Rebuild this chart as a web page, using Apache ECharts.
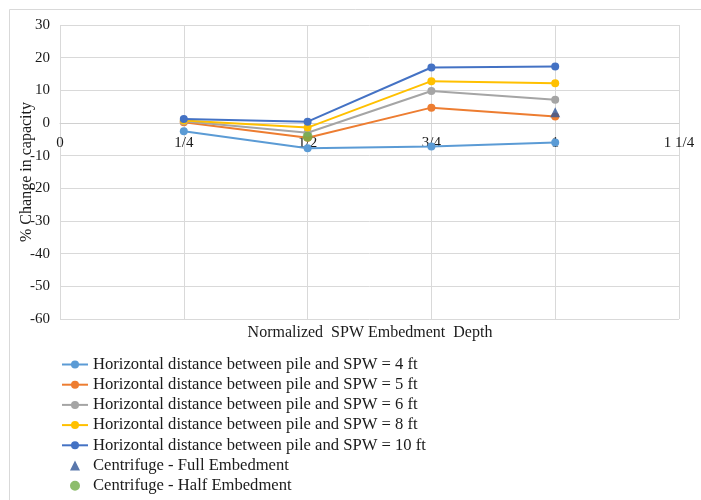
<!DOCTYPE html>
<html>
<head>
<meta charset="utf-8">
<script src="https://cdn.jsdelivr.net/npm/echarts@6/dist/echarts.min.js"></script>
<style>
html,body{margin:0;padding:0;background:#fff;}
#c{width:701px;height:500px;}
</style>
</head>
<body>
<div id="c"></div>
<script>
// ---- data ----
var depths = [0.25, 0.5, 0.75, 1];
var tickLabels = ['0', '1/4', '1/2', '3/4', '1', '1 1/4'];
var names = [
  'Horizontal distance between pile and SPW = 4 ft',
  'Horizontal distance between pile and SPW = 5 ft',
  'Horizontal distance between pile and SPW = 6 ft',
  'Horizontal distance between pile and SPW = 8 ft',
  'Horizontal distance between pile and SPW = 10 ft'
];
var d4ft  = [-2.5, -7.7, -7.2, -6.0];
var d5ft  = [0.2, -4.5, 4.7, 2.0];
var d6ft  = [0.5, -3.0, 9.8, 7.1];
var d8ft  = [0.8, -1.4, 12.8, 12.2];
var d10ft = [1.2, 0.4, 17.0, 17.3];
var fullName = 'Centrifuge - Full Embedment';
var fullX = [1];
var fullY = [3.3];
var halfName = 'Centrifuge - Half Embedment';
var halfX = [0.5];
var halfY = [-4.2];

var colors = ['#5B9BD5', '#ED7D31', '#A5A5A5', '#FFC000', '#4472C4'];
var FONT = 'Liberation Serif';
var TXT = '#1a1a1a';

function pairs(xs, ys) { return xs.map(function (x, i) { return [x, ys[i]]; }); }

var lineData = [d4ft, d5ft, d6ft, d8ft, d10ft];
var series = lineData.map(function (vals, i) {
  return {
    name: names[i],
    type: 'line',
    data: pairs(depths, vals),
    symbol: 'circle',
    symbolSize: 8,
    color: colors[i],
    lineStyle: { width: 2, color: colors[i] },
    itemStyle: { color: colors[i] },
    z: 2 + i
  };
});
series.push({
  name: fullName, type: 'scatter', data: pairs(fullX, fullY),
  symbol: 'triangle', symbolSize: 10,
  color: '#2F5597', itemStyle: { color: '#2F5597' }, z: 10
});
series.push({
  name: halfName, type: 'scatter', data: pairs(halfX, halfY),
  symbol: 'circle', symbolSize: 10,
  color: '#70AD47', itemStyle: { color: '#70AD47' }, z: 10
});

var legendData = names.map(function (n) { return { name: n }; });
legendData.push({ name: fullName, icon: 'path://M5,0L10,10L0,10Z', itemStyle: { color: '#2F5597' } });
legendData.push({ name: halfName, icon: 'path://M5,0A5,5,0,1,1,4.99,0Z', itemStyle: { color: '#70AD47' } });

var chart = echarts.init(document.getElementById('c'), null, { renderer: 'canvas' });
chart.setOption({
  animation: false,
  backgroundColor: '#fff',
  textStyle: { fontFamily: FONT },
  grid: [
    { left: 60, right: 22, top: 25, bottom: 181, containLabel: false },
    // upper band ending at the zero line: carries the x labels just under y = 0
    { left: 60, right: 22, top: 25, height: 98, containLabel: false }
  ],
  xAxis: [{
    type: 'value', min: 0, max: 1.25, interval: 0.25, gridIndex: 0,
    axisLine: { show: true, onZero: true, lineStyle: { color: '#D0D0D0', width: 1 } },
    axisTick: { show: false },
    axisLabel: { show: false },
    splitLine: { show: true, lineStyle: { color: '#D9D9D9', width: 1 } }
  }, {
    type: 'value', min: 0, max: 1.25, interval: 0.25, gridIndex: 1,
    axisLine: { show: false, onZero: false },
    axisTick: { show: false },
    splitLine: { show: false },
    axisLabel: {
      fontFamily: FONT, fontSize: 15, color: TXT, margin: 13,
      formatter: function (v, i) { return tickLabels[i]; }
    }
  }],
  yAxis: [{
    type: 'value', min: -60, max: 30, interval: 10, gridIndex: 0,
    name: '% Change in capacity', nameLocation: 'middle', nameGap: 25, nameRotate: 90,
    nameMoveOverlap: false,
    nameTextStyle: { fontFamily: FONT, fontSize: 16, color: TXT },
    axisLine: { show: false },
    axisTick: { show: false },
    axisLabel: { fontFamily: FONT, fontSize: 15, color: TXT, margin: 10 },
    splitLine: { show: true, lineStyle: { color: '#D9D9D9', width: 1 } }
  }, {
    type: 'value', min: 0, max: 30, gridIndex: 1, show: false
  }],
  legend: {
    orient: 'vertical', left: 61, top: 356, height: 160, padding: 0,
    itemWidth: 26, itemHeight: 10, itemGap: 3.2, symbolKeepAspect: true,
    textStyle: { fontFamily: FONT, fontSize: 16.6, color: TXT, lineHeight: 16 },
    data: legendData
  },
  graphic: [
    { type: 'rect', left: 7, top: 7, z: -1, silent: true,
      shape: { width: 720, height: 520 },
      style: { fill: 'none', stroke: '#D9D9D9', lineWidth: 1 } },
    { type: 'text', x: 370, y: 325, silent: true,
      style: { text: 'Normalized  SPW Embedment  Depth', font: '16px "Liberation Serif"', fill: TXT,
               align: 'center', textAlign: 'center' } }
  ],
  series: series
});
</script>
</body>
</html>
